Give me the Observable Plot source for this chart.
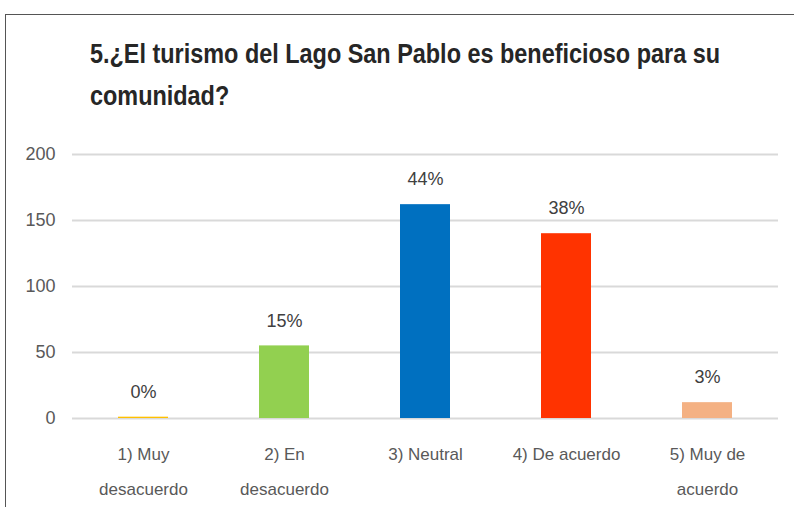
<!DOCTYPE html>
<html><head><meta charset="utf-8">
<script src="https://cdn.jsdelivr.net/npm/d3@7"></script>
<script src="https://cdn.jsdelivr.net/npm/@observablehq/plot@0.6"></script>
<style>
body{margin:0;background:#fff;width:794px;height:507px;overflow:hidden;position:relative;font-family:"Liberation Sans",Arial,sans-serif;}
#frame{position:absolute;left:5px;top:14px;width:820px;height:620px;border-left:1.5px solid #555;border-top:1.5px solid #555;}
#title{position:absolute;left:90px;top:33px;font-size:28px;font-weight:bold;color:#262626;line-height:42px;white-space:nowrap;transform-origin:0 0}
#chart{position:absolute;left:0;top:140px}
</style></head>
<body>
<div id="frame"></div>
<div id="title"><span id="l1">5.¿El turismo del Lago San Pablo es beneficioso para su</span><br>comunidad?</div>
<div id="chart"></div>
<script>
const categories = ["1) Muy desacuerdo","2) En desacuerdo","3) Neutral","4) De acuerdo","5) Muy de acuerdo"];
const tickLabels = ["1) Muy\ndesacuerdo","2) En\ndesacuerdo","3) Neutral","4) De acuerdo","5) Muy de\nacuerdo"];
const values = [1,55,162,140,12];
const percentLabels = ["0%","15%","44%","38%","3%"];
const colors = ["#FFC000","#92D050","#0070C0","#FF3300","#F4B183"];
const yTicks = [0,50,100,150,200];

const data = categories.map((c,i)=>({cat:c, value:values[i], pct:percentLabels[i], color:colors[i], label:tickLabels[i]}));
const font = '"Liberation Sans",Arial,sans-serif';

// fit the title's first line to the reference width
const l1 = document.getElementById("l1");
const w = l1.getBoundingClientRect().width;
document.getElementById("title").style.transform = `scaleX(${630 / w})`;

const plot = Plot.plot({
  width:794, height:367,
  marginTop:14, marginBottom:89, marginLeft:72, marginRight:16,
  style:{fontFamily:font, color:"#595959", background:"transparent"},
  x:{domain:categories, paddingInner:0.645, paddingOuter:0.3225, label:null},
  y:{domain:[0,200], label:null},
  marks:[
    Plot.gridY(yTicks,{stroke:"#D9D9D9", strokeOpacity:1, strokeWidth:2}),
    Plot.axisY(yTicks,{tickSize:0, tickPadding:17, fontSize:18, fill:"#595959", label:null}),
    Plot.axisX({tickSize:0, tickPadding:16, fontSize:17, fill:"#595959", lineHeight:2.08, label:null,
      tickFormat:(d)=>tickLabels[categories.indexOf(d)]}),
    Plot.barY(data,{x:"cat", y:"value", fill:"color"}),
    Plot.text(data,{x:"cat", y:"value", text:"pct", dy:-25, fontSize:18, fill:"#404040"})
  ]
});
document.getElementById("chart").appendChild(plot);
</script>
</body></html>
